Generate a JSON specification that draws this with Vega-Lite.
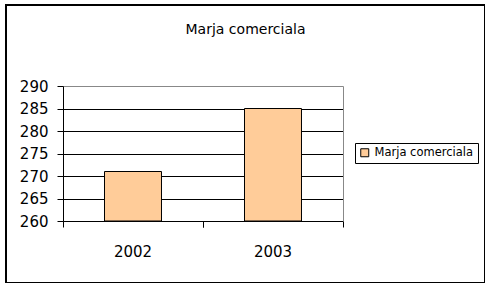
{
  "$schema": "https://vega.github.io/schema/vega-lite/v6.json",
  "width": 479,
  "height": 278,
  "autosize": {"type": "none"},
  "padding": {"left": 6, "top": 5, "right": 0, "bottom": 0},
  "background": "white",
  "config": {
    "view": {"stroke": "black", "strokeWidth": 2},
    "font": "DejaVu Sans",
    "axis": {"labelFont": "DejaVu Sans", "labelColor": "black"}
  },
  "title": {
    "text": "Marja comerciala",
    "frame": "group",
    "anchor": "middle",
    "offset": -43,
    "baseline": "alphabetic",
    "fontSize": 14,
    "fontWeight": "normal",
    "font": "DejaVu Sans",
    "color": "black"
  },
  "data": {
    "values": [
      {"year": "2002", "value": 271},
      {"year": "2003", "value": 285}
    ]
  },
  "layer": [
    {
      "mark": {"type": "bar", "stroke": "black", "strokeWidth": 1, "width": {"band": 0.407}},
      "encoding": {
        "x": {
          "field": "year",
          "type": "nominal",
          "scale": {"range": [57, 337], "paddingInner": 0, "paddingOuter": 0},
          "axis": {
            "title": null,
            "orient": "bottom",
            "offset": -62,
            "labelAngle": 0,
            "labelFontSize": 15,
            "labelPadding": 17,
            "tickSize": 6,
            "tickColor": "black",
            "domainColor": "black",
            "bandPosition": 0,
            "grid": false
          }
        },
        "y": {
          "field": "value",
          "type": "quantitative",
          "scale": {"domain": [260, 290], "range": [216, 81], "zero": false, "nice": false},
          "axis": {
            "title": null,
            "orient": "left",
            "offset": -57,
            "values": [260, 265, 270, 275, 280, 285, 290],
            "labelFontSize": 15,
            "labelPadding": 9,
            "tickSize": 6,
            "tickColor": "black",
            "domainColor": "black",
            "grid": true,
            "gridColor": {"condition": {"test": "datum.value == 290", "value": "#888888"}, "value": "black"},
            "gridOpacity": 1
          }
        },
        "y2": {"datum": 260},
        "color": {
          "datum": "Marja comerciala",
          "type": "nominal",
          "scale": {"range": ["#FFCC99"]},
          "legend": {
            "title": null,
            "orient": "none",
            "legendX": 349,
            "legendY": 138,
            "strokeColor": "black",
            "padding": 4,
            "symbolType": "square",
            "symbolSize": 64,
            "symbolStrokeColor": "black",
            "symbolStrokeWidth": 1,
            "symbolOpacity": 1,
            "labelFontSize": 11.5,
            "labelFont": "DejaVu Sans",
            "labelColor": "black",
            "labelOffset": 4
          }
        }
      }
    },
    {
      "mark": {"type": "point", "opacity": 0},
      "encoding": {
        "x": {
          "field": "year",
          "type": "nominal",
          "axis": {
            "title": null,
            "orient": "bottom",
            "offset": -62,
            "labels": false,
            "domain": false,
            "tickSize": 6,
            "tickColor": "black",
            "bandPosition": 1,
            "grid": false
          }
        },
        "y": {
          "field": "value",
          "type": "quantitative",
          "axis": {
            "title": null,
            "orient": "right",
            "offset": -142,
            "labels": false,
            "ticks": false,
            "grid": false,
            "domainColor": "#888888"
          }
        }
      }
    }
  ],
  "resolve": {"axis": {"x": "independent", "y": "independent"}}
}
